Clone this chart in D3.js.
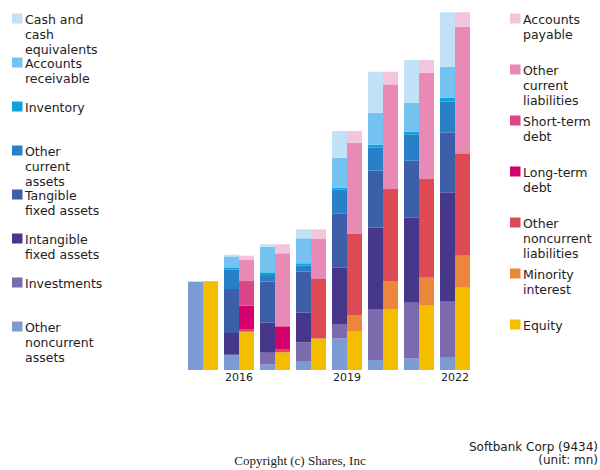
<!DOCTYPE html>
<html><head><meta charset="utf-8">
<script src="https://cdn.jsdelivr.net/npm/d3@7"></script>
<style>body{margin:0;background:#fff}svg{display:block}</style>
</head><body><svg id="c" width="600" height="470"></svg>
<script>
const years = [2015, 2016, 2017, 2018, 2019, 2020, 2021, 2022];
const tickYears = [2016, 2019, 2022];

// Assets (unit: mn), bottom to top
const otherNoncurrentAssets = [3709000, 630000, 239000, 349000, 1331000, 420000, 491000, 517000];
const investments          = [0, 13000, 487000, 815000, 601000, 2142000, 2335000, 2352000];
const intangibleFixed      = [0, 911000, 1260000, 1243000, 2381000, 3415000, 3587000, 4595000];
const tangibleFixed        = [0, 1848000, 1722000, 1722000, 2268000, 2394000, 2377000, 2520000];
const otherCurrentAssets   = [0, 811000, 281000, 252000, 1008000, 983000, 1109000, 1285000];
const inventory            = [0, 71000, 113000, 101000, 67000, 109000, 109000, 168000];
const accountsReceivable   = [0, 487000, 1075000, 1050000, 1260000, 1344000, 1218000, 1302000];
const cashEquivalents      = [21000, 71000, 101000, 378000, 1121000, 1722000, 1793000, 2285000];

// Liabilities & equity (unit: mn), bottom to top
const equity               = [3730000, 1583000, 743000, 1289000, 1638000, 2562000, 2730000, 3457000];
const minorityInterest     = [0, 25000, 0, 42000, 672000, 1176000, 1147000, 1344000];
const otherNoncurrentLiab  = [0, 113000, 139000, 2491000, 3402000, 3864000, 4145000, 4301000];
const longTermDebt         = [0, 979000, 937000, 0, 0, 0, 0, 0];
const shortTermDebt        = [0, 1037000, 29000, 0, 0, 0, 0, 0];
const otherCurrentLiab     = [0, 882000, 3053000, 1680000, 3835000, 4397000, 4465000, 5317000];
const accountsPayable      = [0, 181000, 378000, 407000, 491000, 529000, 533000, 605000];

const assetSeries = [
  {name: "Other\nnoncurrent\nassets", values: otherNoncurrentAssets, color: "#7b9bd2"},
  {name: "Investments", values: investments, color: "#7b6aac"},
  {name: "Intangible\nfixed assets", values: intangibleFixed, color: "#46378a"},
  {name: "Tangible\nfixed assets", values: tangibleFixed, color: "#3d5ea8"},
  {name: "Other\ncurrent\nassets", values: otherCurrentAssets, color: "#2a80c8"},
  {name: "Inventory", values: inventory, color: "#0ba2e2"},
  {name: "Accounts\nreceivable", values: accountsReceivable, color: "#74c2ef"},
  {name: "Cash and\ncash\nequivalents", values: cashEquivalents, color: "#c1e1f7"}
];
const liabSeries = [
  {name: "Equity", values: equity, color: "#f5bd00"},
  {name: "Minority\ninterest", values: minorityInterest, color: "#eb873b"},
  {name: "Other\nnoncurrent\nliabilities", values: otherNoncurrentLiab, color: "#dd4a53"},
  {name: "Long-term\ndebt", values: longTermDebt, color: "#d5006b"},
  {name: "Short-term\ndebt", values: shortTermDebt, color: "#dd4589"},
  {name: "Other\ncurrent\nliabilities", values: otherCurrentLiab, color: "#e88ab5"},
  {name: "Accounts\npayable", values: accountsPayable, color: "#f3c5db"}
];

const svg = d3.select("#c");
const x = d3.scaleBand().domain(years).range([185, 473]).paddingInner(1/6).paddingOuter(1/12);
const y = d3.scaleLinear().domain([0, 15500000]).range([370, 1]);
const bw = x.bandwidth() / 2;

function drawStack(series, offset) {
  const rows = years.map((yr, i) => {
    const r = {year: yr};
    series.forEach((s, k) => r["k" + k] = s.values[i]);
    return r;
  });
  const stack = d3.stack().keys(series.map((s, k) => "k" + k))(rows);
  stack.forEach((layer, k) => {
    svg.append("g").attr("fill", series[k].color)
      .selectAll("rect").data(layer).join("rect")
      .attr("x", d => x(d.data.year) + offset)
      .attr("width", bw)
      .attr("y", d => y(d[1]))
      .attr("height", d => Math.max(0, y(d[0]) - y(d[1])));
  });
}
drawStack(assetSeries, 0);
drawStack(liabSeries, bw);

// x axis labels
const ax = svg.append("g").attr("transform", "translate(0,370)")
  .call(d3.axisBottom(x).tickValues(tickYears).tickSize(0).tickPadding(3));
ax.select(".domain").remove();
ax.selectAll("text").attr("font-family", "DejaVu Sans").attr("font-size", 11).attr("fill", "#222");

// legends
function legend(series, sx, tops) {
  series.forEach((s, k) => {
    const g = svg.append("g");
    g.append("rect").attr("x", sx).attr("y", tops[k] + 0.5).attr("width", 10.5).attr("height", 10).attr("fill", s.color);
    const t = g.append("text").attr("x", sx + 13).attr("y", tops[k] + 11)
      .attr("font-family", "DejaVu Sans").attr("font-size", 12.5).attr("fill", "#222");
    s.name.split("\n").forEach((line, j) => {
      t.append("tspan").attr("x", sx + 13).attr("dy", j === 0 ? 0 : 15).text(line);
    });
  });
}
const leftOrder = assetSeries.slice().reverse();
legend(leftOrder, 12, [13, 57, 101, 145, 189, 233, 277, 321]);
const rightOrder = liabSeries.slice().reverse();
legend(rightOrder, 510, [13, 64, 115, 166, 217, 268, 319]);

svg.append("text").attr("x", 598).attr("y", 451).attr("text-anchor", "end")
  .attr("font-family", "DejaVu Sans").attr("font-size", 12).attr("fill", "#222").text("Softbank Corp (9434)");
svg.append("text").attr("x", 598).attr("y", 464).attr("text-anchor", "end")
  .attr("font-family", "DejaVu Sans").attr("font-size", 12).attr("fill", "#222").text("(unit: mn)");
svg.append("text").attr("x", 300).attr("y", 465).attr("text-anchor", "middle")
  .attr("font-family", "Liberation Serif, DejaVu Serif, serif").attr("font-size", 13).attr("fill", "#222").text("Copyright (c) Shares, Inc");
</script></body></html>
